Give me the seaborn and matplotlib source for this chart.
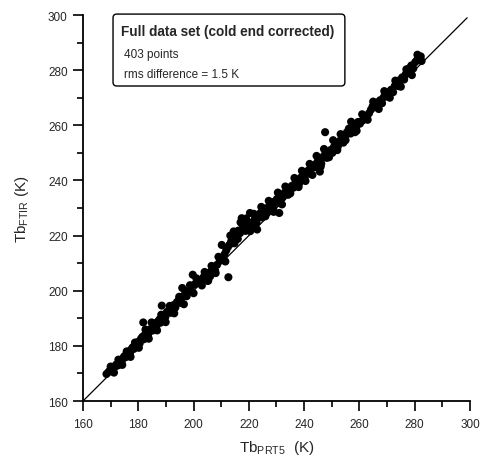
import numpy as np
import pandas as pd
import matplotlib
matplotlib.use("Agg")
import matplotlib.pyplot as plt
from matplotlib.patches import FancyBboxPatch
from matplotlib.ticker import MultipleLocator
import seaborn as sns

# brightness temperatures (K)
tb_prt5 = [
    168.5, 169.2, 169.8, 170.4, 170.9, 171.5, 172.0, 172.6, 173.1, 173.5, 174.0, 174.6,
    175.0, 175.5, 176.1, 176.6, 177.0, 177.5, 178.0, 178.4, 179.0, 179.5, 180.0, 180.5,
    181.0, 181.5, 182.0, 182.4, 183.0, 183.5, 184.0, 184.6, 185.0, 185.6, 186.0, 186.5,
    187.0, 187.6, 188.0, 188.6, 189.2, 189.8, 190.3, 191.0, 191.6, 192.2, 192.8, 193.4,
    194.0, 194.6, 195.2, 181.8, 184.8, 188.5,
    196.0, 196.8, 197.5, 198.2, 199.0, 199.7, 200.5, 201.5, 202.5, 203.5, 204.5, 205.0,
    205.5, 206.0, 206.8, 207.5, 207.8, 208.5, 209.5, 210.2, 210.5, 211.2, 211.8, 212.4,
    212.6, 213.0, 213.6, 214.2, 214.8, 215.0, 195.9, 205.3,
    215.6, 216.2, 216.8, 217.4, 217.6, 218.2, 218.8, 219.4, 220.0, 220.4, 220.8, 221.5,
    222.2, 222.8, 223.5, 224.2, 224.8, 225.5, 226.2, 226.8, 227.5, 228.2, 228.8, 229.5,
    230.2, 231.0, 230.8, 231.5, 232.2, 232.8, 233.5, 234.2, 234.8,
    235.5, 236.2, 236.8, 237.5, 238.2, 238.8, 239.5, 240.2, 240.8, 241.5, 242.2, 242.8,
    243.5, 244.2, 244.8, 245.5, 245.7, 246.2, 246.8, 247.6, 247.5, 248.2, 248.8, 249.5,
    250.2, 250.8, 251.5, 252.2, 252.8, 253.5, 254.2, 254.8,
    255.5, 256.2, 256.8, 257.5, 258.2, 258.4, 258.8, 259.5, 260.2, 260.8, 261.5, 262.2,
    262.8, 263.5, 264.2, 264.8, 265.5, 266.2, 266.8, 267.5, 268.2, 268.8, 269.5, 270.2,
    270.8, 271.5, 272.2, 272.8, 273.5, 274.2, 274.8, 275.5, 276.2, 276.8, 277.5, 278.2,
    278.8, 279.5, 280.2, 280.8, 281.5, 282.2,
    # wider scatter on both sides of the band
    170.0, 171.2, 172.8, 174.2, 175.8, 177.2, 178.8, 180.2, 182.6, 183.8, 185.3, 186.8,
    188.3, 189.9, 191.4, 193.0, 194.8, 196.5, 198.7, 200.0, 201.0, 203.0, 204.0, 206.5,
    208.0, 209.0, 211.5, 213.3, 214.5, 216.0, 217.0, 219.0, 220.5, 221.8, 223.0, 224.5,
    226.0, 227.2, 229.0, 230.5, 232.0, 233.2, 235.0, 236.5, 238.0, 239.2, 240.5, 242.0,
    243.0, 244.5, 246.0, 247.2, 249.0, 250.5, 252.0, 253.2, 255.0, 257.0, 259.0, 261.0,
    263.0, 265.0, 267.0, 269.0, 271.0, 273.0, 275.0, 277.0, 279.0, 281.0, 282.5,
]
tb_ftir = [
    169.8, 170.5, 171.2, 171.0, 172.1, 172.4, 173.2, 172.9, 174.0, 174.6, 174.4, 175.7,
    176.3, 175.9, 177.4, 177.9, 177.3, 178.8, 179.5, 178.9, 180.3, 180.8, 181.5, 180.9,
    182.6, 183.3, 182.4, 184.1, 184.6, 183.9, 185.8, 186.2, 185.5, 187.4, 188.0, 186.9,
    188.7, 189.5, 188.4, 190.3, 191.2, 190.5, 192.2, 192.8, 192.0, 194.0, 194.8, 193.9,
    195.9, 196.5, 195.6, 188.5, 188.5, 194.6,
    197.8, 198.6, 198.0, 200.1, 200.8, 205.8, 202.4, 203.0, 203.6, 204.8, 204.0, 203.6,
    206.5, 205.2, 207.8, 207.0, 207.3, 209.4, 210.8, 216.6, 211.7, 213.2, 214.6, 215.8,
    204.9, 216.7, 217.9, 218.8, 217.2, 219.8, 201.0, 203.6,
    220.5, 221.8, 220.9, 226.3, 222.4, 223.1, 221.7, 224.0, 224.6, 228.2, 223.2, 225.0,
    226.1, 224.7, 227.0, 228.2, 226.6, 229.1, 229.9, 228.5, 230.8, 231.6, 230.0, 232.5,
    233.3, 228.2, 231.9, 234.2, 233.8, 235.4, 236.2, 234.8, 237.3,
    238.0, 237.4, 239.1, 240.0, 238.9, 241.0, 241.8, 240.7, 242.9, 243.6, 242.4, 244.6,
    245.5, 244.8, 246.7, 247.3, 243.2, 246.1, 248.5, 257.5, 249.3, 248.2, 250.3, 251.0,
    250.0, 252.2, 253.1, 252.3, 254.2, 255.0, 253.7, 256.0,
    257.5, 258.8, 257.0, 259.6, 260.4, 257.5, 259.1, 261.2, 260.6, 261.5, 262.0, 262.4,
    263.1, 264.4, 265.7, 266.9, 267.5, 266.8, 268.4, 269.1, 268.0, 270.2, 271.0, 270.4,
    272.1, 272.9, 272.0, 274.3, 275.0, 274.2, 276.5, 277.4, 276.6, 278.6, 279.2, 280.8,
    281.7, 280.6, 282.9, 283.6, 284.2, 285.0,
    172.5, 170.3, 175.0, 173.1, 178.0, 176.0, 181.2, 179.3, 185.9, 182.6, 188.3, 185.6,
    191.3, 188.6, 194.5, 191.8, 197.8, 195.1, 202.0, 199.1, 204.5, 201.9, 206.8, 209.0,
    206.4, 212.3, 210.6, 220.0, 221.5, 218.8, 224.8, 226.2, 221.6, 227.9, 222.2, 230.4,
    227.0, 232.6, 228.6, 235.6, 231.3, 237.8, 235.3, 240.9, 237.6, 243.5, 239.8, 246.0,
    242.0, 248.9, 245.0, 251.4, 248.4, 254.6, 251.0, 256.8, 254.6, 261.3, 258.0, 264.0,
    262.0, 268.6, 265.9, 272.4, 270.0, 276.2, 274.0, 280.3, 278.2, 285.6, 283.3,
]
one_to_one = [160, 299]

df = pd.DataFrame({"prt5": tb_prt5, "ftir": tb_ftir})

sns.set_style("ticks")
plt.rcParams["font.family"] = ["Liberation Sans", "DejaVu Sans"]
plt.rcParams["mathtext.fontset"] = "custom"
plt.rcParams["mathtext.rm"] = "Liberation Sans"

fig = plt.figure(figsize=(4.81, 4.64), dpi=100)
ax = fig.add_axes([0.1726, 0.1336, 0.8044, 0.8319])

ax.plot(one_to_one, one_to_one, color="black", lw=0.9, zorder=1)
sns.scatterplot(data=df, x="prt5", y="ftir", ax=ax, color="black",
                s=34, edgecolor="none", zorder=2, legend=False)

ax.set_xlim(160, 300)
ax.set_ylim(160, 300)
ax.xaxis.set_major_locator(MultipleLocator(20))
ax.yaxis.set_major_locator(MultipleLocator(20))
ax.xaxis.set_minor_locator(MultipleLocator(10))
ax.yaxis.set_minor_locator(MultipleLocator(10))
ax.tick_params(which="major", length=7, width=1.2, labelsize=8.5, direction="out", color="black")
ax.tick_params(which="minor", length=4, width=1.2, direction="out", color="black")
ax.tick_params(axis="x", pad=5)
ax.tick_params(axis="y", pad=4)
for s in ["top", "right"]:
    ax.spines[s].set_visible(False)
for s in ["left", "bottom"]:
    ax.spines[s].set_linewidth(1.3)
    ax.spines[s].set_color("black")

ax.set_xlabel(r"Tb$_{\mathregular{PRT5}}$  (K)", fontsize=11, labelpad=6)
ax.set_ylabel(r"Tb$_{\mathregular{FTIR}}$ (K)", fontsize=11, labelpad=12)

box = FancyBboxPatch((0.235, 0.8125), 0.482, 0.155, transform=fig.transFigure,
                     boxstyle="round,pad=0,rounding_size=0.008",
                     facecolor="white", edgecolor="black", lw=1.0, zorder=5)
fig.patches.append(box)
fig.text(0.251, 0.931, "Full data set (cold end corrected)", fontsize=9.8,
         fontweight="bold", va="center", ha="left", zorder=6)
fig.text(0.257, 0.8815, "403 points", fontsize=8.5, va="center", ha="left", zorder=6)
fig.text(0.257, 0.838, "rms difference = 1.5 K", fontsize=8.5, va="center", ha="left", zorder=6)

fig.savefig("out.png", dpi=100)
